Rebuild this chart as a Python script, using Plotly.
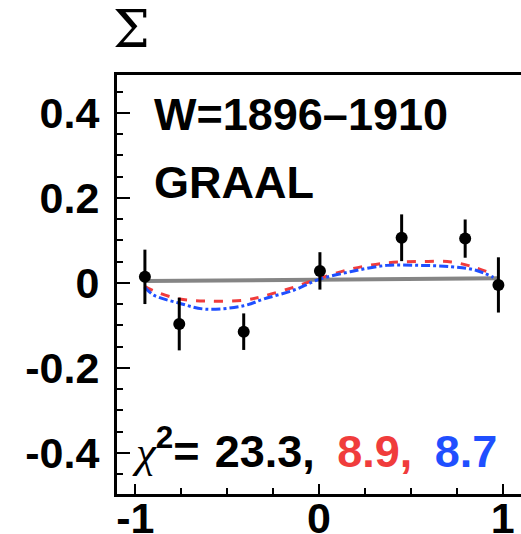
import plotly.graph_objects as go

# Data
pt_x = [-0.948, -0.761, -0.41, 0.005, 0.45, 0.796, 0.977]
pt_y = [0.014, -0.097, -0.115, 0.028, 0.106, 0.104, -0.005]
pt_err = [0.064, 0.062, 0.043, 0.044, 0.055, 0.045, 0.065]

gray_x = [-0.948, 0.977]
gray_y = [0.004, 0.011]

red_x = [-0.95, -0.9, -0.76, -0.6, -0.41, -0.3, -0.135, 0.0, 0.17, 0.37, 0.55, 0.72, 0.85, 0.95]
red_y = [-0.008, -0.019, -0.038, -0.043, -0.041, -0.031, -0.010, 0.010, 0.032, 0.047, 0.050, 0.049, 0.036, 0.020]

blue_x = [-0.95, -0.9, -0.76, -0.62, -0.41, -0.3, -0.135, 0.0, 0.17, 0.37, 0.55, 0.72, 0.85, 0.95]
blue_y = [-0.010, -0.029, -0.048, -0.062, -0.054, -0.038, -0.017, 0.008, 0.026, 0.041, 0.041, 0.038, 0.030, 0.013]

y_tickvals = [0.4, 0.2, 0, -0.2, -0.4]
y_ticktext = ["0.4", "0.2", "0", "-0.2", "-0.4"]
x_tickvals = [-1, 0, 1]
x_ticktext = ["-1", "0", "1"]

chi2_values = ["23.3", "8.9", "8.7"]
label_energy = "W=1896–1910"
label_exp = "GRAAL"

FONT = "Liberation Sans"

fig = go.Figure()
fig.add_trace(go.Scatter(x=gray_x, y=gray_y, mode="lines",
                         line=dict(color="#858585", width=4), hoverinfo="skip"))
fig.add_trace(go.Scatter(x=red_x, y=red_y, mode="lines", line_shape="spline",
                         line=dict(color="#f03c3c", width=3, dash="dash")))
fig.add_trace(go.Scatter(x=blue_x, y=blue_y, mode="lines", line_shape="spline",
                         line=dict(color="#1f4fff", width=3, dash="dashdot")))
fig.add_trace(go.Scatter(x=pt_x, y=pt_y, mode="markers",
                         marker=dict(color="black", size=12),
                         error_y=dict(type="data", array=pt_err, color="black",
                                      thickness=3, width=0)))

fig.update_layout(
    width=521, height=534,
    margin=dict(l=117, r=0, t=75, b=40, autoexpand=False),
    plot_bgcolor="white", paper_bgcolor="white",
    showlegend=False,
    xaxis=dict(range=[-1.1, 1.1], showgrid=False, zeroline=False, automargin=False,
               showline=True, linecolor="black", linewidth=3, mirror=True,
               ticks="inside", ticklen=10, tickwidth=2, tickcolor="black",
               tickvals=x_tickvals, ticktext=x_ticktext,
               ticklabelstandoff=-16,
               tickfont=dict(family=FONT, size=43, color="black", weight="bold"),
               minor=dict(dtick=0.25, tick0=0, ticks="inside", ticklen=6,
                          tickwidth=2, tickcolor="black")),
    yaxis=dict(range=[-0.497, 0.489], showgrid=False, zeroline=False, automargin=False,
               showline=True, linecolor="black", linewidth=3,
               ticks="inside", ticklen=13, tickwidth=2, tickcolor="black",
               tickvals=y_tickvals, ticktext=y_ticktext,
               ticklabelstandoff=6,
               tickfont=dict(family=FONT, size=43, color="black", weight="bold"),
               minor=dict(dtick=0.05, tick0=0, ticks="inside", ticklen=6,
                          tickwidth=2, tickcolor="black")),
)

fig.add_annotation(x=-1.019, y=1.11, xref="x", yref="paper", text="Σ",
                   showarrow=False, xanchor="center", yanchor="middle",
                   font=dict(family="DejaVu Serif", size=52, color="black"))
fig.add_annotation(x=-0.91, y=0.395, xref="x", yref="y", text=label_energy,
                   showarrow=False, xanchor="left", yanchor="middle",
                   font=dict(family=FONT, size=45, color="black", weight="bold"))
fig.add_annotation(x=-0.91, y=0.235, xref="x", yref="y", text=label_exp,
                   showarrow=False, xanchor="left", yanchor="middle",
                   font=dict(family=FONT, size=45, color="black", weight="bold"))

chi_text = ('<span style="font-family:Liberation Serif;font-weight:normal"><i>χ</i></span>'
            '<sup>2</sup>=\u2004' + chi2_values[0] + ',\u2002'
            '<span style="color:#f03c3c">' + chi2_values[1] + ',</span>\u2002'
            '<span style="color:#1f4fff">' + chi2_values[2] + '</span>')
fig.add_annotation(x=-1.03, y=-0.388, xref="x", yref="y", text=chi_text,
                   showarrow=False, xanchor="left", yanchor="middle",
                   font=dict(family=FONT, size=45, color="black", weight="bold"))

fig.write_html("out.html")
